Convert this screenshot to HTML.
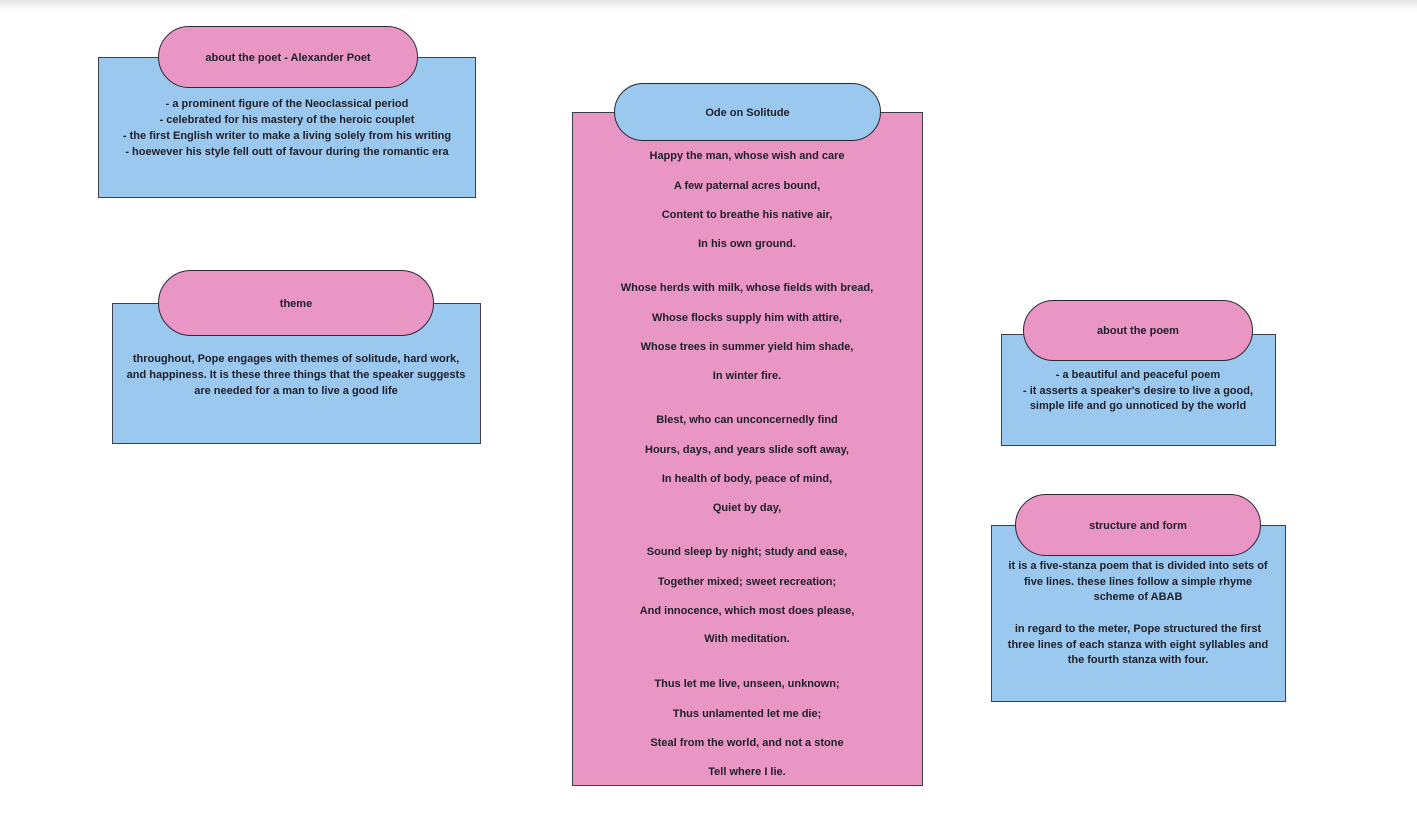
<!DOCTYPE html>
<html><head><meta charset="utf-8"><style>
body{margin:0;width:1417px;height:827px;background:#fff;position:relative;overflow:hidden;font-family:"Liberation Sans",sans-serif;color:#1f1f2a;font-size:11px;font-weight:bold}
.top{position:absolute;left:0;top:0;width:1417px;height:10px;background:linear-gradient(#e4e4e4,#fff)}
.r{position:absolute;border:1px solid #3a3f4a;box-sizing:border-box}
.b{background:#9bc8ee}.p{background:#e996c4}
.pill{position:absolute;border:1px solid #2a2a33;box-sizing:border-box;border-radius:40px;display:flex;align-items:center;justify-content:center;font-size:11px;padding-top:1px}
.t{position:absolute;text-align:center;white-space:nowrap;line-height:16px;transform:translateX(-50%)}
</style></head><body>
<div class="top"></div>

<div class="r b" style="left:98px;top:57px;width:378px;height:141px"></div>
<div class="pill p" style="left:158px;top:26px;width:260px;height:62px">about the poet - Alexander Poet</div>
<div class="t" style="left:287px;top:96px">- a prominent figure of the Neoclassical period<br>- celebrated for his mastery of the heroic couplet<br>- the first English writer to make a living solely from his writing<br>- hoewever his style fell outt of favour during the romantic era</div>

<div class="r b" style="left:112px;top:303px;width:369px;height:141px"></div>
<div class="pill p" style="left:158px;top:270px;width:276px;height:66px">theme</div>
<div class="t" style="left:296px;top:351px">throughout, Pope engages with themes of solitude, hard work,<br>and happiness. It is these three things that the speaker suggests<br>are needed for a man to live a good life</div>

<div class="r p" style="left:572px;top:112px;width:351px;height:674px"></div>
<div class="pill b" style="left:614px;top:83px;width:267px;height:58px">Ode on Solitude</div>
<div class="t" style="left:747px;top:148px">Happy the man, whose wish and care</div>
<div class="t" style="left:747px;top:178px">A few paternal acres bound,</div>
<div class="t" style="left:747px;top:207px">Content to breathe his native air,</div>
<div class="t" style="left:747px;top:236px">In his own ground.</div>
<div class="t" style="left:747px;top:280px">Whose herds with milk, whose fields with bread,</div>
<div class="t" style="left:747px;top:310px">Whose flocks supply him with attire,</div>
<div class="t" style="left:747px;top:339px">Whose trees in summer yield him shade,</div>
<div class="t" style="left:747px;top:368px">In winter fire.</div>
<div class="t" style="left:747px;top:412px">Blest, who can unconcernedly find</div>
<div class="t" style="left:747px;top:442px">Hours, days, and years slide soft away,</div>
<div class="t" style="left:747px;top:471px">In health of body, peace of mind,</div>
<div class="t" style="left:747px;top:500px">Quiet by day,</div>
<div class="t" style="left:747px;top:544px">Sound sleep by night; study and ease,</div>
<div class="t" style="left:747px;top:574px">Together mixed; sweet recreation;</div>
<div class="t" style="left:747px;top:603px">And innocence, which most does please,</div>
<div class="t" style="left:747px;top:631px">With meditation.</div>
<div class="t" style="left:747px;top:676px">Thus let me live, unseen, unknown;</div>
<div class="t" style="left:747px;top:706px">Thus unlamented let me die;</div>
<div class="t" style="left:747px;top:735px">Steal from the world, and not a stone</div>
<div class="t" style="left:747px;top:764px">Tell where I lie.</div>

<div class="r b" style="left:1001px;top:334px;width:275px;height:112px"></div>
<div class="pill p" style="left:1023px;top:300px;width:230px;height:61px">about the poem</div>
<div class="t" style="left:1138px;top:368px;line-height:15.5px">- a beautiful and peaceful poem<br>- it asserts a speaker's desire to live a good,<br>simple life and go unnoticed by the world</div>

<div class="r b" style="left:991px;top:525px;width:295px;height:177px"></div>
<div class="pill p" style="left:1015px;top:494px;width:246px;height:62px">structure and form</div>
<div class="t" style="left:1138px;top:559px;line-height:15.7px">it is a five-stanza poem that is divided into sets of<br>five lines. these lines follow a simple rhyme<br>scheme of ABAB<br><br>in regard to the meter, Pope structured the first<br>three lines of each stanza with eight syllables and<br>the fourth stanza with four.</div>
</body></html>
